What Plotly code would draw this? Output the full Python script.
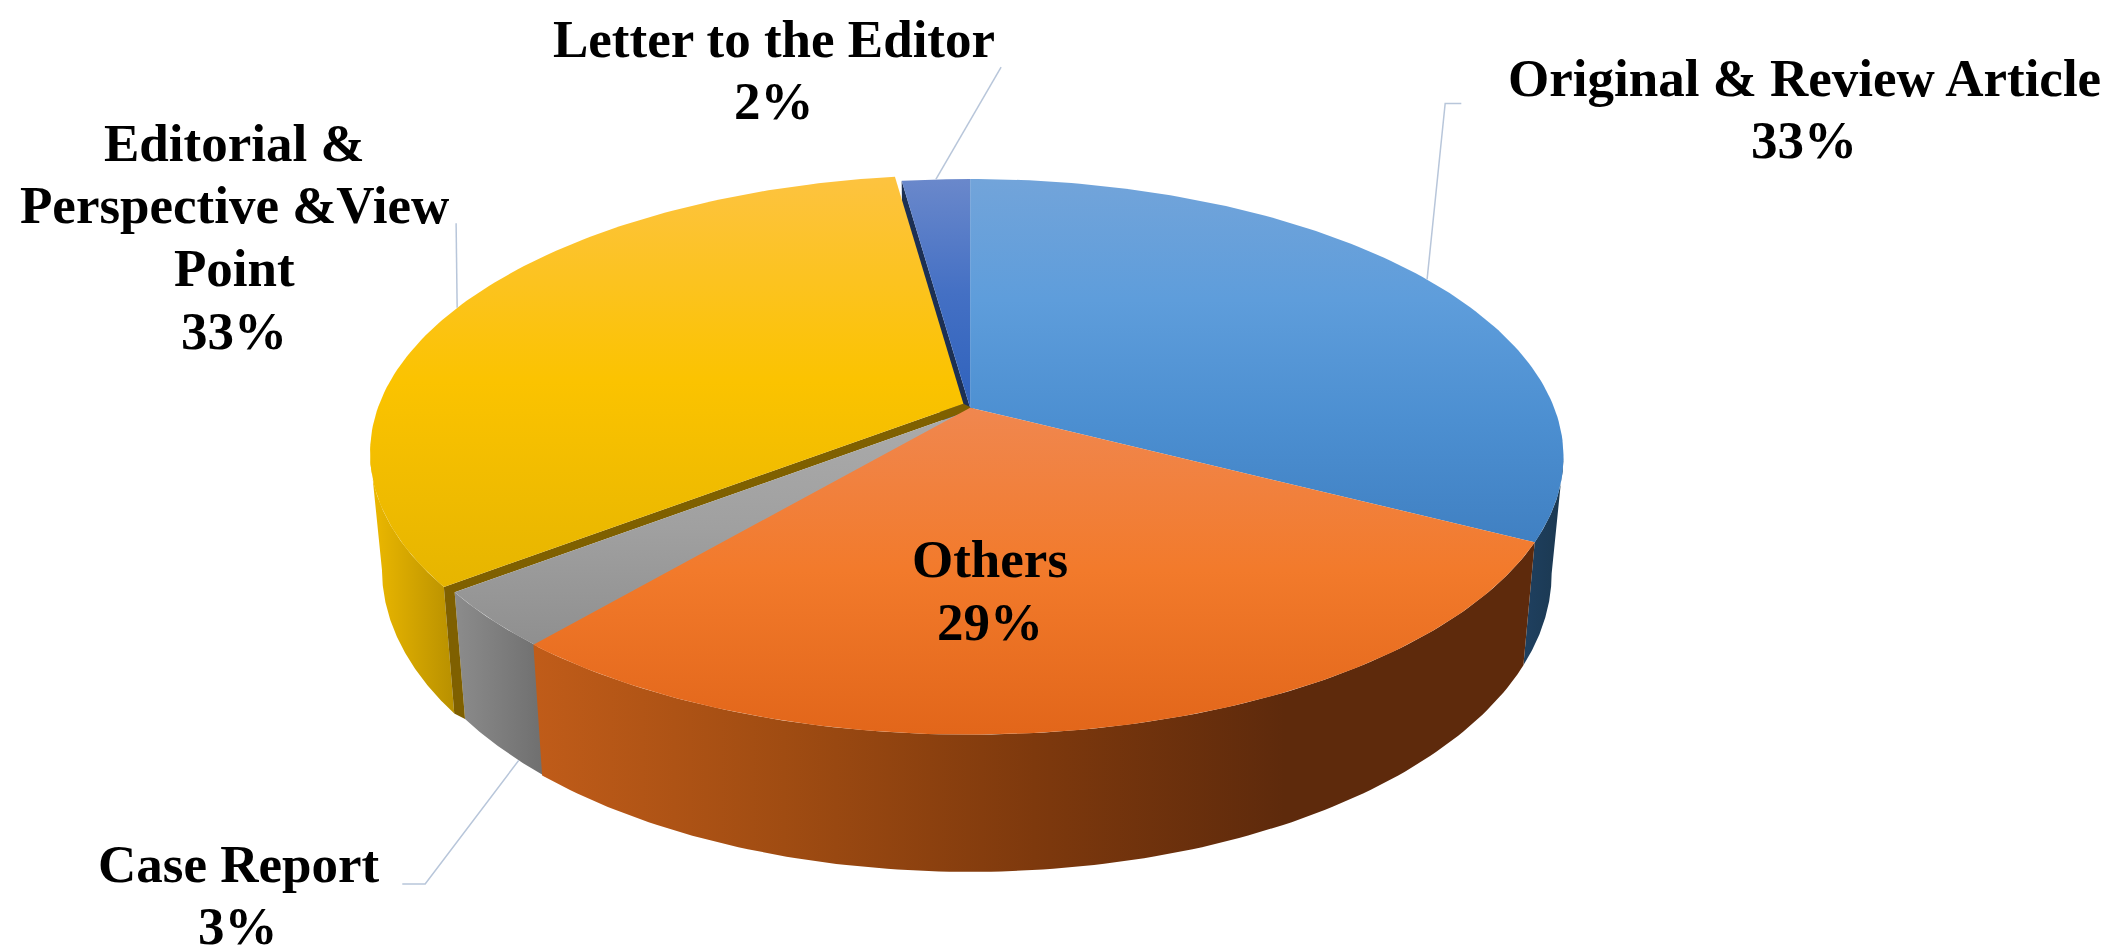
import math
import plotly.graph_objects as go

# ---- data (share of articles, %) ----
categories = ["Original & Review Article", "Others", "Case Report",
              "Editorial & Perspective &View Point", "Letter to the Editor"]
values = [32.6, 28.6, 3.4, 33.2, 2.2]
label_lines = [["Original & Review Article"], ["Others"], ["Case Report"],
               ["Editorial &", "Perspective &View", "Point"], ["Letter to the Editor"]]
label_x = [1335, 730, 171, 168, 569]
label_y = [75, 433, 659, 170, 46]

# ---- styles ----
top_colors = [["#72A4DA", "#5E9DDB", "#4C8FD1", "#4080C2"],
              ["#F0874F", "#F27A2B", "#E2661A"],
              ["#ABABAB", "#A0A0A0", "#8F8F8F"],
              ["#FDC340", "#FBC300", "#E6B500"],
              ["#6A88CB", "#4470C4", "#2F62BC"]]
wall_colors = [["#1F4060", "#1B3850"],
               ["#C05C19", "#A04C12", "#7E390D", "#5E2A0C", "#5E2A0C"],
               ["#8C8C8C", "#6E6E6E"], ["#EDB900", "#B89000"], ["#1F3864", "#1F3864"]]
brown_face = "#7F6000"
navy_face = "#1C3054"
leader_color = "#B8C6DA"
explode = [(0, 0), (0, 0), (3, 1), (-5, -3), (0, 0)]
leader_bends = [[(1068, 71), (1080, 71)], None, [(310, 651), (293, 651)],
                [(333, 160)], [(738, 44)]]
leader_frac = [0.5, 0.5, 0.3, 0.5, 0.5]

# ---- projection of the tilted disc (reference-view units) ----
S = 2110 / 1568
CX, CY, FX, FY, K, DEPTH, SHRINK = 715, 297, 434, 200, 0.1768, 84, 0.98
LINE_GAP = 46.5
FONT_SIZE = 53
# the wall is visible only between the two points where the rim turns back
FRONT_FROM = math.pi - math.asin(math.sqrt(1 - K * K))
FRONT_TO = 2 * math.pi - FRONT_FROM


def rim(theta, off=(0, 0)):
    u, v = math.sin(theta), math.cos(theta)
    den = 1 + K * v
    return CX + FX * u / den + off[0], CY - FY * v / den + off[1]


def rim_low(theta, off=(0, 0)):
    x, y = rim(theta)
    den = 1 + K * math.cos(theta)
    return CX + (x - CX) * SHRINK + off[0], y + DEPTH / den + off[1]


def arc(fn, a, b, off=(0, 0), n=120):
    return [fn(a + (b - a) * i / n, off) for i in range(n + 1)]


def stops(cols):
    return [[i / (len(cols) - 1), c] for i, c in enumerate(cols)]


fig = go.Figure()


def poly(pts, name, cols, kind):
    xs = [p[0] * S for p in pts]
    ys = [p[1] * S for p in pts]
    xs.append(xs[0])
    ys.append(ys[0])
    ref = xs if kind == "horizontal" else ys
    fig.add_trace(go.Scatter(
        x=xs, y=ys, mode="lines", name=name, fill="toself", hoverinfo="skip",
        line=dict(width=0, color="rgba(0,0,0,0)"), showlegend=False,
        fillgradient=dict(type=kind, colorscale=stops(cols), start=min(ref), stop=max(ref))))


total = sum(values)
edges = [0.0]
for v in values:
    edges.append(edges[-1] + v / total * 2 * math.pi)

# letter's cut face, seen through the gap beside the pulled-out slice
a4 = edges[4]
apex = (CX, CY)
poly([apex, rim(a4), rim_low(a4), (CX, CY + DEPTH)], categories[4], [navy_face, navy_face], "vertical")

# front-facing walls
for i in [0, 3, 2, 1]:
    off = explode[i]
    a, b = max(edges[i], FRONT_FROM), min(edges[i + 1], FRONT_TO)
    if a >= b:
        continue
    up = arc(rim, a, b, off)
    low = arc(rim_low, a, b, off)
    poly(up + low[::-1], categories[i], wall_colors[i], "horizontal")

# yellow slice's cut face above the grey slice
a3 = edges[3]
off3, off2 = explode[3], explode[2]
ya = (CX + off3[0], CY + off3[1])
ga = (CX + off2[0], CY + off2[1])
poly([ya, rim(a3, off3), rim_low(a3, off3), rim_low(a3, off2), rim(a3, off2), ga],
     categories[3], [brown_face, brown_face], "vertical")

# top faces
for i in [0, 2, 1, 4, 3]:
    off = explode[i]
    c = (CX + off[0], CY + off[1])
    pts = [c] + arc(rim, edges[i], edges[i + 1], off)
    poly(pts, categories[i], top_colors[i], "vertical")

# leader lines
for i, bends in enumerate(leader_bends):
    if not bends:
        continue
    at = edges[i] + leader_frac[i] * (edges[i + 1] - edges[i])
    start = rim_low(at, explode[i]) if i == 2 else rim(at, explode[i])
    pts = [start] + bends
    fig.add_trace(go.Scatter(
        x=[p[0] * S for p in pts], y=[p[1] * S for p in pts], mode="lines",
        line=dict(color=leader_color, width=1.5), hoverinfo="skip", showlegend=False))

# labels: one text per line so the line spacing can follow the reference
for i, lines in enumerate(label_lines):
    rows = lines + [f"{round(values[i])}%"]
    for r, t in enumerate(rows):
        y = label_y[i] + (r - (len(rows) - 1) / 2) * LINE_GAP
        fig.add_annotation(x=label_x[i] * S, y=y * S, text=f"<b>{t}</b>", showarrow=False,
                           xanchor="center", yanchor="middle", align="center",
                           font=dict(family="Liberation Serif", size=FONT_SIZE, color="#000000"))

fig.update_layout(
    width=2110, height=947, margin=dict(l=0, r=0, t=0, b=0),
    paper_bgcolor="white", plot_bgcolor="white", showlegend=False,
    xaxis=dict(range=[0, 2110], visible=False, fixedrange=True),
    yaxis=dict(range=[947, 0], visible=False, fixedrange=True))
fig.write_html("out.html", config={"displayModeBar": False})
